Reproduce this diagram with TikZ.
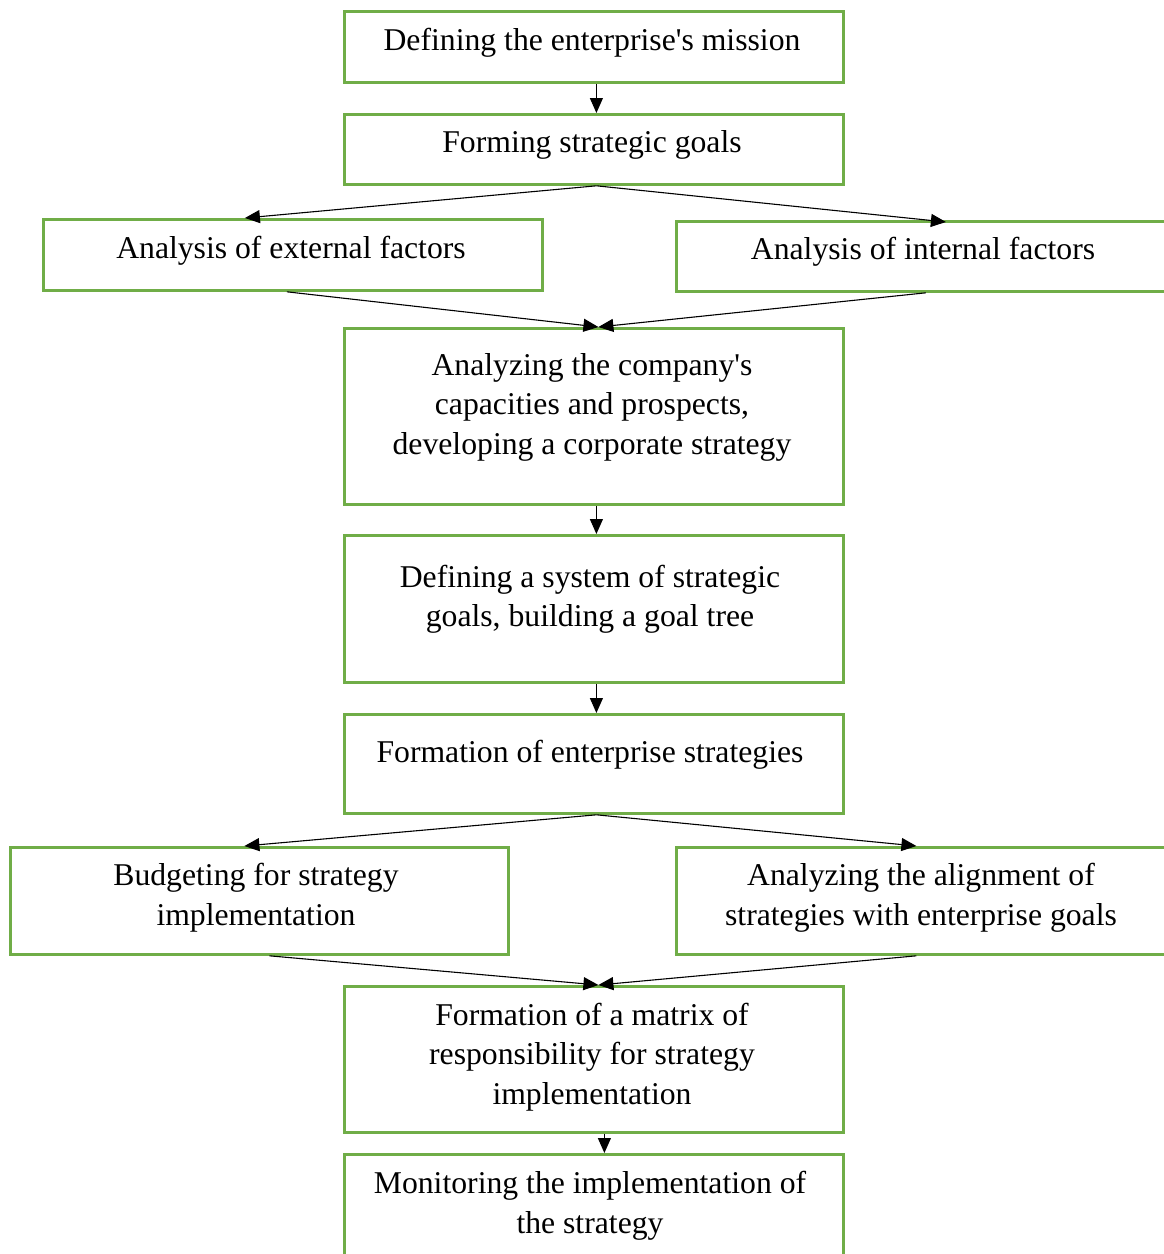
\documentclass[tikz,border=0pt]{standalone}
\usepackage{fontspec}
\setmainfont{Liberation Serif}[Ligatures=TeXOff]
\usetikzlibrary{arrows.meta}
\definecolor{boxgreen}{RGB}{112,173,71}
\begin{document}
\begin{tikzpicture}[x=1pt,y=-1pt,
  box/.style={draw=boxgreen,line width=2.8pt,fill=white,inner sep=0pt,
              minimum width=#1,anchor=north west},
  txt/.style={align=center,inner sep=0pt,font=\fontsize{31.7}{39.5}\selectfont},
  flow/.style={line width=1.1pt,-{Triangle[length=15pt,width=13pt]}}]
\useasboundingbox (0,0) rectangle (1164,1254);
\clip (0,0) rectangle (1164,1254);

% boxes
\node[box=499pt,minimum height=71pt]  (mission)  at (343,10)   {};
\node[box=499pt,minimum height=70pt]  (goals)    at (343,113)  {};
\node[box=499pt,minimum height=71pt]  (extern)   at (42,218)   {};
\node[box=499pt,minimum height=70pt]  (intern)   at (675,220)  {};
\node[box=499pt,minimum height=176pt] (analyze)  at (343,327)  {};
\node[box=499pt,minimum height=147pt] (tree)     at (343,534)  {};
\node[box=499pt,minimum height=99pt]  (strat)    at (343,713)  {};
\node[box=498pt,minimum height=107pt] (budget)   at (9,846)    {};
\node[box=499pt,minimum height=107pt] (align)    at (675,846)  {};
\node[box=499pt,minimum height=146pt] (matrix)   at (343,985)  {};
\node[box=499pt,minimum height=140pt] (monitor)  at (343,1153) {};

% texts
\node[txt] (tmission) at (592,43)    {Defining the enterprise's mission};
\node[txt] (tgoals)   at (592,145)   {Forming strategic goals};
\node[txt] (textern)  at (291,251)   {Analysis of external factors};
\node[txt] (tintern)  at (923,252)   {Analysis of internal factors};
\node[txt] (tanalyze) at (592,407)   {Analyzing the company's\\capacities and prospects,\\developing a corporate strategy};
\node[txt] (ttree)    at (590,599)   {Defining a system of strategic\\goals, building a goal tree};
\node[txt] (tstrat)   at (590,755)   {Formation of enterprise strategies};
\node[txt] (tbudget)  at (256,897.5) {Budgeting for strategy\\implementation};
\node[txt] (talign)   at (921,897.5) {Analyzing the alignment of\\strategies with enterprise goals};
\node[txt] (tmatrix)  at (592,1057)  {Formation of a matrix of\\responsibility for strategy\\implementation};
\node[txt] (tmonitor) at (590,1205.5){Monitoring the implementation of\\the strategy};

% connectors
\draw[flow] ([xshift=2.5pt]mission.south) -- ([xshift=2.5pt]goals.north);
\draw[flow] ([xshift=2.5pt]goals.south) -- ([xshift=-48pt]extern.north);
\draw[flow] ([xshift=2.5pt]goals.south) -- ([xshift=20pt,yshift=-2pt]intern.north);
\draw[flow] ([xshift=-6pt]extern.south) -- ([xshift=4.5pt]analyze.north);
\draw[flow] ([xshift=0pt]intern.south) -- ([xshift=4.5pt]analyze.north);
\draw[flow] ([xshift=2.5pt]analyze.south) -- ([xshift=2.5pt]tree.north);
\draw[flow] ([xshift=2.5pt]tree.south) -- ([xshift=2.5pt]strat.north);
\draw[flow] ([xshift=2.5pt]strat.south) -- ([xshift=-15pt]budget.north);
\draw[flow] ([xshift=2.5pt]strat.south) -- ([xshift=-9.5pt]align.north);
\draw[flow] ([xshift=10pt]budget.south) -- ([xshift=4.5pt]matrix.north);
\draw[flow] ([xshift=-9.5pt]align.south) -- ([xshift=4.5pt]matrix.north);
\draw[flow] ([xshift=10.5pt]matrix.south) -- ([xshift=10.5pt]monitor.north);
\end{tikzpicture}
\end{document}
